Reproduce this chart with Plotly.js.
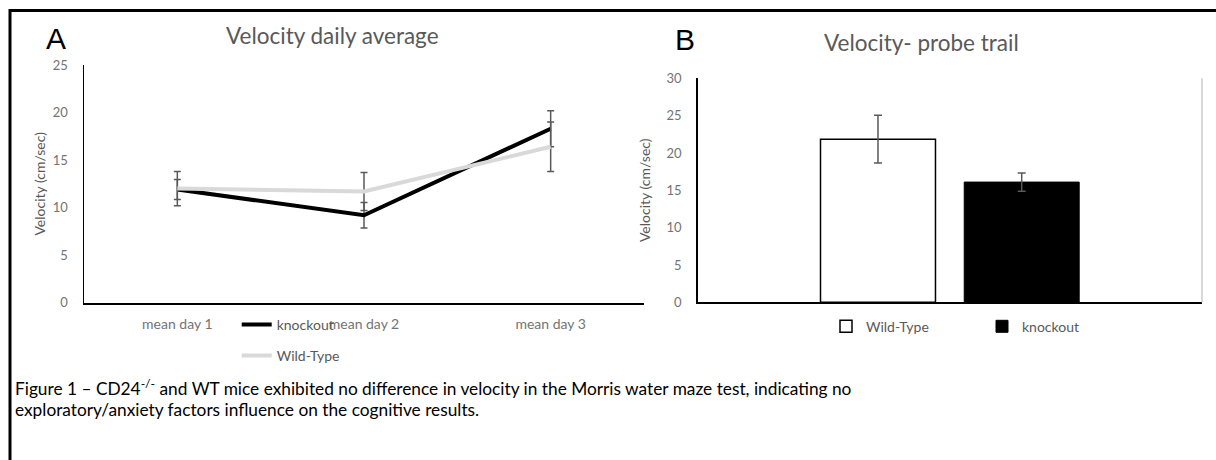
<!DOCTYPE html>
<html>
<head>
<meta charset="utf-8">
<script src="https://cdn.plot.ly/plotly-3.0.1.min.js"></script>
<style>
  html, body { margin: 0; padding: 0; background: #ffffff; }
  #chart { width: 1216px; height: 460px; }
</style>
</head>
<body>
<div id="chart"></div>
<script>
// ---- Data ----
const dayCategories = ['mean day 1', 'mean day 2', 'mean day 3'];
const knockoutDaily = [11.9, 9.2, 18.3];
const knockoutDailyErr = [1.05, 1.35, 1.9];
const wildTypeDaily = [12.0, 11.7, 16.4];
const wildTypeDailyErr = [1.8, 2.0, 2.6];

const probeCategory = ['probe trail'];
const probeWildType = [21.85];
const probeWildTypeErr = [3.2];
const probeKnockout = [16.1];
const probeKnockoutErr = [1.22];

const titleA = 'Velocity daily average';
const titleB = 'Velocity- probe trail';
const yTitle = 'Velocity (cm/sec)';
const captionLine1 = 'Figure 1 \u2013 CD24<sup>-/-</sup> and WT mice exhibited no difference in velocity in the Morris water maze test, indicating no';
const captionLine2 = 'exploratory/anxiety factors influence on the cognitive results.';

// ---- helpers for pixel placement ----
const W = 1216, H = 460;
const px = v => v / W;
const py = v => 1 - v / H;

const FONT = 'Lato, "Open Sans", sans-serif';
const GREY_TXT = '#595959';
const GREY_TICK = '#737373';
const ERR_COL = '#595959';

const traces = [
  {
    type: 'scatter', mode: 'lines', name: 'knockout', showlegend: true,
    x: dayCategories, y: knockoutDaily,
    line: { color: '#000000', width: 4 },
    error_y: { type: 'data', array: knockoutDailyErr, visible: true, color: ERR_COL, thickness: 1.5, width: 3.5 },
    xaxis: 'x', yaxis: 'y', legend: 'legend'
  },
  {
    type: 'scatter', mode: 'lines', name: 'Wild-Type', showlegend: true,
    x: dayCategories, y: wildTypeDaily,
    line: { color: '#d9d9d9', width: 4 },
    error_y: { type: 'data', array: wildTypeDailyErr, visible: true, color: ERR_COL, thickness: 1.5, width: 3.5 },
    xaxis: 'x', yaxis: 'y', legend: 'legend2'
  },
  {
    type: 'bar', name: 'Wild-Type', showlegend: true,
    x: probeCategory, y: probeWildType,
    marker: { color: '#ffffff', line: { color: '#000000', width: 1.5 } },
    error_y: { type: 'data', array: probeWildTypeErr, visible: true, color: ERR_COL, thickness: 1.5, width: 4 },
    xaxis: 'x2', yaxis: 'y2', legend: 'legend3'
  },
  {
    type: 'bar', name: 'knockout', showlegend: true,
    x: probeCategory, y: probeKnockout,
    marker: { color: '#000000', line: { color: '#000000', width: 1 } },
    error_y: { type: 'data', array: probeKnockoutErr, visible: true, color: ERR_COL, thickness: 1.5, width: 4 },
    xaxis: 'x2', yaxis: 'y2', legend: 'legend4'
  }
];

const legendBase = {
  visible: true,
  bgcolor: 'rgba(0,0,0,0)', borderwidth: 0,
  font: { family: FONT, size: 14, color: GREY_TXT },
  xanchor: 'left', yanchor: 'middle', orientation: 'v'
};

const yAxisCommon = {
  showgrid: false, zeroline: false, showline: true,
  linecolor: '#000000', linewidth: 1.5,
  ticks: '', dtick: 5,
  tickfont: { family: FONT, size: 13, color: GREY_TICK },
  ticklabelstandoff: 12
};

const layout = {
  width: W, height: H,
  margin: { l: 0, r: 0, t: 0, b: 0 },
  paper_bgcolor: '#ffffff', plot_bgcolor: 'rgba(0,0,0,0)',
  font: { family: FONT, color: GREY_TXT },
  showlegend: true,
  barmode: 'group', bargap: 0.43, bargroupgap: 0.2,
  xaxis: {
    domain: [px(84), px(644)],
    anchor: 'y', range: [-0.5, 2.5],
    showgrid: false, zeroline: false, showline: true,
    linecolor: '#000000', linewidth: 2, ticks: '',
    tickfont: { family: FONT, size: 14, color: GREY_TICK },
    ticklabelstandoff: 7
  },
  yaxis: Object.assign({}, yAxisCommon, {
    domain: [py(302.7), py(65)], anchor: 'x', range: [0, 25],
    title: { text: yTitle, standoff: 4, font: { family: FONT, size: 14, color: GREY_TXT } }
  }),
  xaxis2: {
    domain: [px(697.7), px(1202)],
    anchor: 'y2', range: [-0.5, 0.5],
    showgrid: false, zeroline: false, showline: true,
    linecolor: '#000000', linewidth: 2, ticks: '',
    showticklabels: false
  },
  yaxis2: Object.assign({}, yAxisCommon, {
    domain: [py(302.3), py(78.3)], anchor: 'x2', range: [0, 30],
    title: { text: yTitle, standoff: 12, font: { family: FONT, size: 14, color: GREY_TXT } }
  }),
  legend: Object.assign({}, legendBase, { x: px(236.7), y: py(325) }),
  legend2: Object.assign({}, legendBase, { x: px(236.7), y: py(356) }),
  legend3: Object.assign({}, legendBase, { x: px(826), y: py(326.7) }),
  legend4: Object.assign({}, legendBase, { x: px(982), y: py(326.7) }),
  shapes: [
    { type: 'rect', xref: 'paper', yref: 'paper',
      x0: px(10), x1: px(1240), y0: py(10.5), y1: py(480),
      line: { color: '#000000', width: 3 }, fillcolor: 'rgba(0,0,0,0)' },
    { type: 'line', xref: 'x2 domain', yref: 'y2 domain',
      x0: 1, x1: 1, y0: 0, y1: 1,
      line: { color: '#d9d9d9', width: 2 } }
  ],
  annotations: [
    { text: 'A', xref: 'paper', yref: 'paper', x: px(56), y: py(39),
      xanchor: 'center', yanchor: 'middle', showarrow: false,
      font: { family: '"Liberation Sans", Arial, sans-serif', size: 30, color: '#000000' } },
    { text: 'B', xref: 'paper', yref: 'paper', x: px(685), y: py(40),
      xanchor: 'center', yanchor: 'middle', showarrow: false,
      font: { family: '"Liberation Sans", Arial, sans-serif', size: 30, color: '#000000' } },
    { text: titleA, xref: 'paper', yref: 'paper', x: px(332), y: py(35),
      xanchor: 'center', yanchor: 'middle', showarrow: false,
      font: { family: FONT, size: 22.5, color: GREY_TXT } },
    { text: titleB, xref: 'paper', yref: 'paper', x: px(921), y: py(42.5),
      xanchor: 'center', yanchor: 'middle', showarrow: false,
      font: { family: FONT, size: 22.5, color: GREY_TXT } },
    { text: captionLine1, xref: 'paper', yref: 'paper', x: px(13), y: py(387),
      xanchor: 'left', yanchor: 'middle', showarrow: false, align: 'left',
      font: { family: FONT, size: 17.3, color: '#000000' } },
    { text: captionLine2, xref: 'paper', yref: 'paper', x: px(13), y: py(409),
      xanchor: 'left', yanchor: 'middle', showarrow: false, align: 'left',
      font: { family: FONT, size: 17.3, color: '#000000' } }
  ]
};

Plotly.newPlot('chart', traces, layout, { staticPlot: true, displayModeBar: false });
</script>
</body>
</html>
